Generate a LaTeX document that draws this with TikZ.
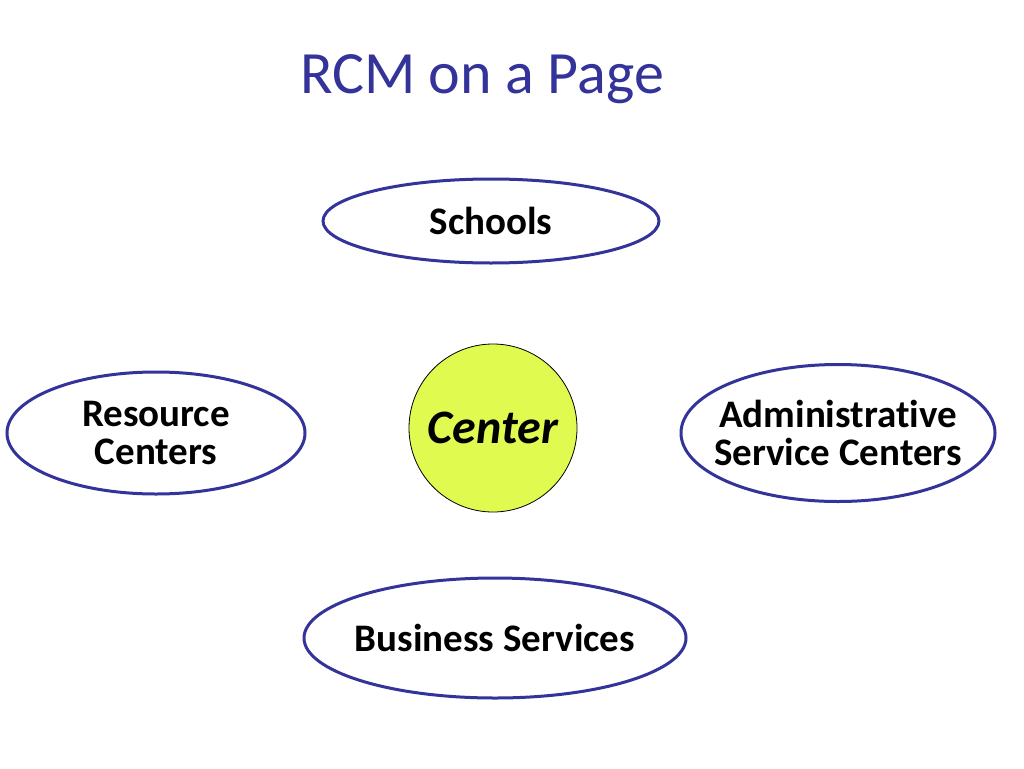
\documentclass[tikz,border=0pt]{standalone}
\usepackage{fontspec}
\setmainfont{Carlito}[Ligatures=NoCommon]
\usetikzlibrary{positioning,shapes.geometric}
\definecolor{rcmblue}{RGB}{51,51,153}
\definecolor{rcmlime}{RGB}{224,250,80}

\begin{document}
\begin{tikzpicture}[x=1pt, y=-1pt,
    unit/.style={ellipse, draw=rcmblue, line width=3pt, fill=white, inner sep=0pt,
      align=center, font=\fontsize{39}{38}\selectfont\bfseries},
    hub/.style={circle, draw=black, line width=0.8pt, fill=rcmlime, inner sep=0pt,
      minimum size=168pt, font=\fontsize{48}{48}\selectfont\bfseries\itshape},
    title/.style={font=\fontsize{60}{60}\selectfont, text=rcmblue}]

  \useasboundingbox (0,0) rectangle (1024,768);

  % Title
  \node[title] (Title) at (482,79) {RCM on a Page};

  % Center circle
  \node[hub] (Hub) at (493,428) {Center};

  % Surrounding units
  \node[unit, minimum width=336pt, minimum height=84pt] (Schools) at (491,221) {Schools};
  \node[unit, minimum width=298pt, minimum height=122pt] (Resource) at (156,433) {Resource\\Centers};
  \node[unit, inner xsep=-13pt, minimum width=314pt, minimum height=137pt] (Admin) at (838,433) {Administrative\\Service Centers};
  \node[unit, inner xsep=-6pt, minimum width=382pt, minimum height=120pt] (Business) at (495,638) {Business Services};

\end{tikzpicture}
\end{document}
